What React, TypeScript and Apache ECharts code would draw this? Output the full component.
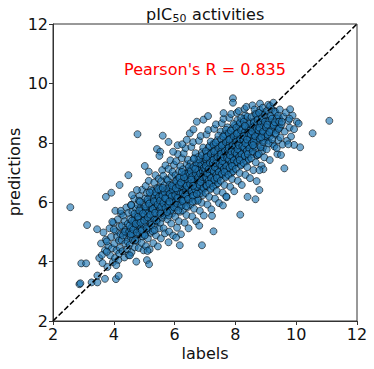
import React, { useEffect, useRef } from "react";
import * as echarts from "echarts";

// [label, prediction] pairs
const cloudLow: [number, number][] = [
  [3.52,4.12],[3.58,4.61],[3.63,3.95],[3.66,4.98],[3.71,4.38],[3.74,4.74],[3.79,3.82],[3.82,4.52],[3.86,5.12],[3.88,4.21],[3.91,4.83],[3.94,4.45],[3.97,3.98],[3.99,5.31],
  [4.02,4.61],[4.04,4.12],[4.07,5.02],[4.09,4.38],[4.11,4.84],[4.13,5.42],[4.15,4.05],[4.17,4.71],[4.19,5.18],[4.2,4.46],[4.22,4.93],[4.24,5.61],[4.08,3.88],[4.18,4.27],
  [4.26,4.72],[4.27,5.21],[4.29,4.35],[4.31,5.55],[4.33,4.98],[4.35,4.14],[4.36,5.36],[4.38,4.61],[4.4,5.08],[4.41,5.82],[4.43,4.83],[4.44,4.41],[4.46,5.27],[4.47,4.95],[4.48,5.64],[4.49,4.22],[4.3,4.88],[4.37,5.01],[4.45,4.68],
  [4.51,5.02],[4.52,4.56],[4.54,5.43],[4.55,4.83],[4.57,5.91],[4.58,4.31],[4.6,5.18],[4.61,5.67],[4.63,4.72],[4.64,5.31],[4.66,4.98],[4.67,6.12],[4.69,4.48],[4.7,5.52],[4.71,5.12],[4.72,4.87],[4.73,5.78],[4.74,5.26],[4.56,5.11],[4.62,4.94],[4.68,5.41],[4.53,4.21],
  [4.76,5.33],[4.77,4.71],[4.78,5.91],[4.8,5.08],[4.81,5.62],[4.82,4.46],[4.84,5.24],[4.85,6.21],[4.86,4.92],[4.87,5.47],[4.88,5.81],[4.9,5.14],[4.91,4.63],[4.92,5.69],[4.93,6.42],[4.94,5.36],[4.95,4.85],[4.96,5.98],[4.97,5.52],[4.98,4.38],[4.99,5.21],[4.79,5.42],[4.89,5.02],[4.83,6.05],[4.94,5.76],
  [5.01,5.58],[5.02,4.91],[5.03,6.12],[5.04,5.27],[5.05,6.55],[5.06,4.52],[5.07,5.81],[5.08,5.43],[5.09,6.31],[5.1,5.05],[5.11,5.67],[5.12,4.78],[5.13,6.02],[5.14,5.39],[5.15,6.72],[5.16,5.14],[5.17,5.88],[5.18,4.41],[5.19,5.52],[5.2,6.21],[5.21,5.76],[5.22,4.97],[5.23,6.43],[5.24,5.31],[5.05,5.71],[5.13,5.62],[5.19,5.98],[5.11,6.09],
  [5.26,5.71],[5.27,6.38],[5.28,5.02],[5.29,5.94],[5.3,4.62],[5.31,6.14],[5.32,5.48],[5.33,6.66],[5.34,5.83],[5.35,5.22],[5.36,6.02],[5.37,6.91],[5.38,5.61],[5.39,4.88],[5.4,6.27],[5.41,5.78],[5.42,5.35],[5.43,6.48],[5.44,5.97],[5.45,4.51],[5.46,6.17],[5.47,5.56],[5.48,6.79],[5.49,5.12],[5.29,5.62],[5.35,6.21],[5.41,6.05],[5.46,5.86],[5.33,5.41],[5.38,6.33],
];

const cloudMid: [number, number][] = [
  [5.51,5.92],[5.52,6.51],[5.53,5.31],[5.54,6.18],[5.55,4.78],[5.56,6.71],[5.57,5.67],[5.58,6.04],[5.59,7.08],[5.6,5.48],[5.61,6.32],[5.62,5.86],[5.63,6.89],[5.64,5.12],[5.65,6.21],[5.66,5.74],[5.67,6.58],[5.68,4.95],[5.69,6.02],[5.7,7.24],[5.71,5.58],[5.72,6.41],[5.73,5.97],[5.74,6.77],[5.52,5.78],[5.58,6.28],[5.62,6.12],[5.68,5.91],[5.72,6.16],[5.55,6.41],[5.64,5.55],
  [5.76,6.13],[5.77,5.42],[5.78,6.74],[5.79,5.88],[5.8,7.12],[5.81,6.35],[5.82,5.01],[5.83,6.58],[5.84,5.71],[5.85,6.21],[5.86,7.41],[5.87,5.96],[5.88,6.47],[5.89,5.28],[5.9,6.88],[5.91,6.08],[5.92,5.62],[5.93,7.02],[5.94,6.31],[5.95,4.88],[5.96,6.62],[5.97,5.84],[5.98,7.26],[5.99,6.17],[5.78,6.01],[5.83,6.27],[5.88,6.11],[5.92,6.38],[5.96,6.04],[5.81,5.55],[5.9,5.76],[5.95,6.52],
  [6.01,6.32],[6.02,5.51],[6.03,6.91],[6.04,6.08],[6.05,7.38],[6.06,5.82],[6.07,6.55],[6.08,5.14],[6.09,6.77],[6.1,6.21],[6.11,7.62],[6.12,5.97],[6.13,6.44],[6.14,5.36],[6.15,7.05],[6.16,6.12],[6.17,6.68],[6.18,5.68],[6.19,7.21],[6.2,6.36],[6.21,4.92],[6.22,6.59],[6.23,5.89],[6.24,7.48],[6.03,6.17],[6.07,6.41],[6.12,6.28],[6.16,6.49],[6.2,6.03],[6.23,6.24],[6.06,6.64],[6.14,6.83],[6.18,6.01],
  [6.26,6.52],[6.27,5.72],[6.28,7.11],[6.29,6.26],[6.3,7.64],[6.31,5.98],[6.32,6.78],[6.33,5.31],[6.34,6.94],[6.35,6.41],[6.36,7.82],[6.37,6.14],[6.38,6.67],[6.39,5.57],[6.4,7.28],[6.41,6.33],[6.42,6.88],[6.43,5.84],[6.44,7.43],[6.45,6.57],[6.46,5.12],[6.47,6.81],[6.48,6.08],[6.49,7.06],[6.28,6.61],[6.32,6.44],[6.37,6.53],[6.41,6.71],[6.45,6.29],[6.48,6.49],[6.3,6.92],[6.39,6.19],[6.44,7.01],
  [6.51,6.73],[6.52,5.91],[6.53,7.31],[6.54,6.44],[6.55,7.86],[6.56,6.17],[6.57,6.98],[6.58,5.52],[6.59,7.14],[6.6,6.62],[6.61,8.02],[6.62,6.33],[6.63,6.87],[6.64,5.78],[6.65,7.49],[6.66,6.52],[6.67,7.08],[6.68,6.04],[6.69,7.65],[6.7,6.78],[6.71,5.36],[6.72,7.02],[6.73,6.27],[6.74,7.27],[6.53,6.83],[6.57,6.58],[6.62,6.71],[6.66,6.93],[6.7,6.41],[6.73,6.68],[6.55,7.11],[6.64,6.22],[6.69,7.22],
  [6.76,6.92],[6.77,6.11],[6.78,7.52],[6.79,6.63],[6.8,8.07],[6.81,6.36],[6.82,7.18],[6.83,5.71],[6.84,7.34],[6.85,6.81],[6.86,8.23],[6.87,6.52],[6.88,7.07],[6.89,5.98],[6.9,7.69],[6.91,6.73],[6.92,7.28],[6.93,6.24],[6.94,7.84],[6.95,6.97],[6.96,5.55],[6.97,7.22],[6.98,6.46],[6.99,7.47],[6.78,7.03],[6.82,6.78],[6.87,6.91],[6.91,7.13],[6.95,6.61],[6.98,6.88],[6.8,7.31],[6.89,6.42],[6.94,7.42],
];

const cloudHigh: [number, number][] = [
  [7.01,7.12],[7.02,6.31],[7.03,7.72],[7.04,6.84],[7.05,8.28],[7.06,6.56],[7.07,7.38],[7.08,5.92],[7.09,7.54],[7.1,7.01],[7.11,8.43],[7.12,6.72],[7.13,7.27],[7.14,6.18],[7.15,7.89],[7.16,6.93],[7.17,7.48],[7.18,6.44],[7.19,8.04],[7.2,7.17],[7.21,5.76],[7.22,7.42],[7.23,6.66],[7.24,7.67],[7.03,7.23],[7.07,6.98],[7.12,7.11],[7.16,7.33],[7.2,6.81],[7.23,7.08],[7.05,7.51],[7.14,6.62],[7.19,7.62],
  [7.26,7.32],[7.27,6.52],[7.28,7.93],[7.29,7.04],[7.3,8.47],[7.31,6.76],[7.32,7.58],[7.33,6.12],[7.34,7.74],[7.35,7.21],[7.36,8.62],[7.37,6.92],[7.38,7.47],[7.39,6.38],[7.4,8.09],[7.41,7.13],[7.42,7.68],[7.43,6.64],[7.44,8.24],[7.45,7.37],[7.46,5.97],[7.47,7.62],[7.48,6.86],[7.49,7.87],[7.28,7.43],[7.32,7.18],[7.37,7.31],[7.41,7.53],[7.45,7.01],[7.48,7.28],[7.3,7.71],[7.39,6.82],[7.44,7.82],[7.35,8.01],
  [7.51,7.52],[7.52,6.72],[7.53,8.12],[7.54,7.24],[7.55,8.66],[7.56,6.96],[7.57,7.78],[7.58,6.32],[7.59,7.94],[7.6,7.41],[7.61,8.81],[7.62,7.12],[7.63,7.67],[7.64,6.58],[7.65,8.29],[7.66,7.33],[7.67,7.88],[7.68,6.84],[7.69,8.44],[7.7,7.57],[7.71,6.17],[7.72,7.82],[7.73,7.06],[7.74,8.07],[7.53,7.63],[7.57,7.38],[7.62,7.51],[7.66,7.73],[7.7,7.21],[7.73,7.48],[7.55,7.91],[7.64,7.02],[7.69,8.02],[7.6,8.21],
  [7.76,7.72],[7.77,6.92],[7.78,8.31],[7.79,7.44],[7.8,8.84],[7.81,7.16],[7.82,7.98],[7.83,6.52],[7.84,8.14],[7.85,7.61],[7.86,8.97],[7.87,7.32],[7.88,7.87],[7.89,6.78],[7.9,8.48],[7.91,7.53],[7.92,8.08],[7.93,7.04],[7.94,8.63],[7.95,7.77],[7.96,6.37],[7.97,8.02],[7.98,7.26],[7.99,8.27],[7.78,7.83],[7.82,7.58],[7.87,7.71],[7.91,7.93],[7.95,7.41],[7.98,7.68],[7.8,8.11],[7.89,7.22],[7.94,8.22],[7.85,8.41],
  [8.01,7.92],[8.02,7.12],[8.03,8.51],[8.04,7.64],[8.05,9.01],[8.06,7.36],[8.07,8.18],[8.08,6.72],[8.09,8.34],[8.1,7.81],[8.11,9.07],[8.12,7.52],[8.13,8.07],[8.14,6.98],[8.15,8.68],[8.16,7.73],[8.17,8.28],[8.18,7.24],[8.19,8.83],[8.2,7.97],[8.21,6.58],[8.22,8.22],[8.23,7.46],[8.24,8.47],[8.03,8.03],[8.07,7.78],[8.12,7.91],[8.16,8.13],[8.2,7.61],[8.23,7.88],[8.05,8.31],[8.14,7.42],[8.19,8.42],
  [8.26,8.12],[8.27,7.32],[8.28,8.71],[8.29,7.84],[8.3,9.14],[8.31,7.56],[8.32,8.38],[8.33,6.92],[8.34,8.54],[8.35,8.01],[8.36,9.21],[8.37,7.72],[8.38,8.27],[8.39,7.18],[8.4,8.88],[8.42,7.93],[8.43,8.48],[8.44,7.44],[8.46,8.63],[8.47,8.17],[8.48,6.81],[8.49,8.42],[8.28,8.23],[8.33,7.98],[8.38,8.11],[8.42,8.33],[8.46,7.81],[8.31,8.57],[8.41,7.62],
  [8.51,8.28],[8.52,7.48],[8.53,8.87],[8.54,7.99],[8.56,9.26],[8.57,7.71],[8.58,8.53],[8.59,7.08],[8.61,8.69],[8.62,8.16],[8.63,9.12],[8.64,7.87],[8.66,8.42],[8.67,7.34],[8.68,8.96],[8.69,8.08],[8.71,8.63],[8.72,7.59],[8.73,8.78],[8.74,8.32],[8.55,8.38],[8.6,8.04],[8.65,8.22],[8.7,8.48],[8.58,7.92],
  [8.76,8.42],[8.77,7.62],[8.78,9.01],[8.8,8.14],[8.81,9.32],[8.83,7.86],[8.84,8.67],[8.86,7.23],[8.87,8.83],[8.89,8.31],[8.9,9.18],[8.92,8.02],[8.93,8.56],[8.95,7.51],[8.96,8.94],[8.98,8.22],[8.79,8.51],[8.85,8.19],[8.91,8.38],[8.97,8.71],
  [9.01,8.52],[9.03,7.78],[9.04,9.08],[9.06,8.27],[9.08,9.28],[9.09,7.98],[9.11,8.73],[9.13,7.42],[9.15,8.91],[9.17,8.44],[9.19,9.14],[9.21,8.12],[9.23,8.62],[9.05,8.61],[9.12,8.36],[9.2,8.81],
  [9.26,8.58],[9.28,7.88],[9.31,9.04],[9.33,8.32],[9.36,8.81],[9.38,7.62],[9.41,8.92],[9.43,8.47],[9.46,9.12],[9.48,8.18],[9.3,8.69],[9.44,8.71],
  [9.52,8.62],[9.55,7.94],[9.58,8.88],[9.62,8.38],[9.66,9.02],[9.7,8.07],[9.74,8.74],[9.78,8.51],[9.83,8.21],[9.88,8.92],[9.93,8.46],
];

const coreDense: [number, number][] = [
  [4.52,5.21],[4.56,4.92],[4.6,5.38],[4.64,5.08],[4.68,5.61],[4.72,5.27],[4.76,4.98],[4.8,5.51],[4.84,5.72],[4.88,5.31],[4.92,5.05],[4.96,5.62],[5.0,5.38],[5.04,5.86],[5.08,5.12],[5.12,5.49],[5.16,5.95],[5.2,5.58],[5.24,5.23],[5.28,5.77],[5.32,6.03],[5.36,5.64],[5.4,5.39],[5.44,5.92],[5.48,6.18],[4.7,4.72],[4.86,6.02],[5.02,4.88],[5.18,6.33],[5.34,5.06],[5.46,6.44],
  [5.52,6.05],[5.56,5.84],[5.6,6.22],[5.63,5.97],[5.67,6.34],[5.7,5.81],[5.73,6.11],[5.77,6.46],[5.8,5.93],[5.84,6.28],[5.87,5.72],[5.9,6.19],[5.94,6.43],[5.97,5.99],[5.54,5.62],[5.61,6.48],[5.69,6.13],[5.75,5.67],[5.83,6.02],[5.91,6.56],[5.98,5.83],
  [6.02,6.24],[6.05,6.71],[6.08,5.95],[6.11,6.38],[6.13,6.12],[6.16,6.82],[6.19,6.27],[6.22,5.88],[6.25,6.53],[6.27,6.31],[6.3,6.08],[6.33,6.62],[6.36,6.95],[6.38,6.41],[6.41,6.18],[6.43,6.77],[6.46,6.49],[6.49,6.92],[6.04,6.47],[6.09,6.14],[6.15,6.58],[6.21,6.66],[6.26,6.04],[6.31,6.84],[6.35,6.26],[6.4,6.55],[6.44,6.11],[6.47,7.18],[6.12,5.72],[6.24,7.02],[6.38,5.86],
  [6.51,6.61],[6.53,7.04],[6.56,6.38],[6.58,6.87],[6.6,6.21],[6.62,7.19],[6.65,6.69],[6.67,6.44],[6.7,6.97],[6.72,7.31],[6.74,6.52],[6.77,6.83],[6.79,7.08],[6.81,6.59],[6.84,6.96],[6.86,6.31],[6.88,7.27],[6.9,6.77],[6.93,7.05],[6.95,6.48],[6.97,7.38],[6.99,6.92],[6.55,6.76],[6.61,6.55],[6.68,7.12],[6.73,6.28],[6.8,7.44],[6.85,6.68],[6.92,6.85],[6.96,7.15],[6.63,7.46],[6.76,6.05],[6.9,7.58],[6.59,6.02],
  [7.01,7.02],[7.03,7.41],[7.05,6.77],[7.07,7.18],[7.09,6.91],[7.11,7.57],[7.13,7.06],[7.15,6.64],[7.17,7.29],[7.19,7.73],[7.21,6.96],[7.23,7.37],[7.25,7.12],[7.27,6.81],[7.29,7.52],[7.31,7.24],[7.33,7.86],[7.35,6.99],[7.37,7.41],[7.39,7.16],[7.41,6.73],[7.43,7.62],[7.45,7.27],[7.47,7.94],[7.49,7.08],[7.04,6.55],[7.12,7.84],[7.2,6.47],[7.28,7.98],[7.36,6.58],[7.44,7.07],[7.1,7.24],[7.22,7.15],[7.32,7.46],[7.42,7.34],[7.06,7.63],[7.26,6.68],
  [7.51,7.41],[7.53,7.82],[7.55,7.13],[7.57,7.56],[7.59,7.28],[7.61,7.97],[7.63,7.43],[7.65,7.01],[7.67,7.68],[7.69,8.12],[7.71,7.36],[7.73,7.77],[7.75,7.52],[7.77,7.19],[7.79,7.91],[7.81,7.63],[7.83,8.26],[7.85,7.38],[7.87,7.81],[7.89,7.57],[7.91,7.12],[7.93,8.03],[7.95,7.66],[7.97,8.36],[7.99,7.47],[7.54,6.91],[7.62,8.24],[7.7,6.88],[7.78,8.37],[7.86,6.97],[7.94,7.33],[7.58,7.69],[7.68,7.48],[7.76,7.88],[7.84,7.74],[7.92,7.89],[7.52,8.38],[7.74,8.52],[7.98,8.58],
  [8.01,7.83],[8.03,8.21],[8.05,7.52],[8.07,7.96],[8.09,7.67],[8.11,8.37],[8.13,7.84],[8.15,7.41],[8.17,8.07],[8.19,8.51],[8.21,7.76],[8.23,8.16],[8.25,7.91],[8.27,7.58],[8.29,8.31],[8.31,8.02],[8.33,8.63],[8.35,7.78],[8.37,8.19],[8.39,7.95],[8.41,7.49],[8.43,8.41],[8.45,8.06],[8.47,8.72],[8.49,7.87],[8.04,7.31],[8.12,8.62],[8.2,7.27],[8.28,8.81],[8.36,7.37],[8.44,7.72],[8.08,8.09],[8.18,7.88],[8.26,8.27],[8.34,8.14],[8.42,8.23],[8.06,8.76],[8.32,8.93],
  [8.51,8.12],[8.53,8.57],[8.55,7.86],[8.57,8.31],[8.59,8.03],[8.61,8.72],[8.63,8.19],[8.65,7.76],[8.67,8.44],[8.69,8.87],[8.71,8.11],[8.73,8.52],[8.75,8.26],[8.77,7.93],[8.79,8.68],[8.81,8.39],[8.83,8.96],[8.85,8.13],[8.87,8.55],[8.89,8.29],[8.91,7.84],[8.93,8.77],[8.95,8.41],[8.97,9.03],[8.99,8.21],[8.56,7.62],[8.64,8.98],[8.72,7.58],[8.8,9.11],[8.88,7.72],[8.96,8.08],
  [9.02,8.33],[9.05,8.76],[9.08,8.07],[9.11,8.49],[9.14,8.22],[9.17,8.88],[9.2,8.38],[9.23,7.96],[9.26,8.64],[9.29,9.07],[9.32,8.27],[9.35,8.56],[9.38,8.43],[9.41,8.09],[9.44,8.83],[9.47,8.52],
];

const outliers: [number, number][] = [
  [2.57,5.83],[3.12,5.23],[3.45,5.09],[2.93,3.94],[3.09,3.94],[2.87,3.24],[2.9,3.27],[3.27,3.3],[3.46,3.3],[3.46,3.53],[3.71,3.42],[4.07,3.41],[4.16,3.52],
  [3.61,4.22],[3.77,4.33],[3.77,4.68],[3.95,5.34],[4.0,5.08],[4.05,5.71],[4.23,5.71],[4.6,6.24],[4.57,5.9],[3.74,6.18],[3.92,6.32],[4.19,6.58],[4.48,6.91],[4.76,6.41],
  [4.78,8.29],[5.61,8.24],[5.8,8.03],[5.42,7.79],[5.53,7.7],[5.5,7.56],[5.02,7.22],[5.15,7.03],[5.95,7.7],[6.1,7.92],[6.25,7.95],[6.4,8.1],[6.5,8.32],[6.62,8.45],[6.73,8.71],[6.95,8.78],[7.1,8.9],
  [7.61,9.0],[7.92,9.5],[7.92,9.35],[9.14,9.24],[9.25,9.35],[9.8,9.13],[9.53,8.71],[9.78,8.81],[10.02,8.71],[10.08,8.65],[10.54,8.32],[11.09,8.74],
  [10.13,7.85],[9.93,7.93],[9.74,7.95],[9.61,7.14],[9.5,7.59],[9.36,7.82],[8.92,7.11],[8.79,6.41],[8.7,6.71],[8.79,7.08],[8.66,6.1],[8.4,6.18],[8.16,5.58],[7.59,5.89],[7.7,6.19],[7.23,5.54],[7.28,5.02],[6.9,4.55],[6.81,5.21],
  [6.17,4.55],[6.05,4.81],[5.8,4.65],[5.09,4.05],[5.16,3.91],[4.74,4.0],[5.11,4.36],
];

const diagonal: [number, number][] = [[2, 2], [12, 12]];
const xTicks = [2, 4, 6, 8, 10, 12];
const yTicks = [2, 4, 6, 8, 10, 12];
const titleMain = "pIC";
const titleSub = "50";
const titleRest = " activities";
const pearsonText = "Pearson's R = 0.835";
const xName = "labels";
const yName = "predictions";

export default function App() {
  const ref = useRef<HTMLDivElement>(null);
  useEffect(() => {
    if (!ref.current) return;
    const chart = echarts.init(ref.current, undefined, { renderer: "svg" });
    const points = [...cloudLow, ...cloudMid, ...coreDense, ...cloudHigh, ...outliers];
    const font = "DejaVu Sans";
    const axisCommon = {
      type: "value" as const,
      min: xTicks[0],
      max: xTicks[xTicks.length - 1],
      interval: xTicks[1] - xTicks[0],
      axisLine: { show: true, onZero: false, lineStyle: { color: "#333", width: 1 } },
      axisTick: { show: true, inside: false, length: 4, lineStyle: { color: "#333", width: 1 } },
      splitLine: { show: false },
      axisLabel: { show: true, color: "#111", fontSize: 16, fontFamily: font, showMinLabel: true, showMaxLabel: true, margin: 5 },
    };
    chart.setOption({
      animation: false,
      backgroundColor: "#fff",
      grid: { left: 53, right: 17, top: 24, bottom: 48, show: true, borderColor: "#333", borderWidth: 1, backgroundColor: "transparent" },
      xAxis: { ...axisCommon },
      yAxis: { ...axisCommon, min: yTicks[0], max: yTicks[yTicks.length - 1], interval: yTicks[1] - yTicks[0] },
      graphic: [
        { type: "text", x: 146, y: 14.5, style: { text: titleMain, fontSize: 16, fontFamily: font, fill: "#111", align: "left", verticalAlign: "middle" } },
        { type: "text", x: 172.5, y: 18.3, style: { text: titleSub, fontSize: 11, fontFamily: font, fill: "#111", align: "left", verticalAlign: "middle" } },
        { type: "text", x: 187, y: 14.5, style: { text: titleRest, fontSize: 16, fontFamily: font, fill: "#111", align: "left", verticalAlign: "middle" } },
        { type: "text", x: 205, y: 69, style: { text: pearsonText, fontSize: 16, fontFamily: font, fill: "#ff0000", align: "center", verticalAlign: "middle" } },
        { type: "text", x: 205, y: 353, style: { text: xName, fontSize: 16, fontFamily: font, fill: "#111", align: "center", verticalAlign: "middle" } },
        { type: "text", x: 14, y: 172, rotation: Math.PI / 2, style: { text: yName, fontSize: 16, fontFamily: font, fill: "#111", align: "center", verticalAlign: "middle" } },
      ],
      series: [
        {
          type: "scatter",
          data: points,
          symbol: "circle",
          symbolSize: 7,
          large: false,
          itemStyle: { color: "rgba(31,119,180,0.8)", borderColor: "rgba(0,0,0,0.8)", borderWidth: 0.9 },
          z: 2,
        },
        {
          type: "line",
          data: diagonal,
          showSymbol: false,
          symbol: "none",
          lineStyle: { color: "#000", width: 1.5, type: [5.5, 2.4] },
          z: 3,
        },
      ],
    });
    return () => chart.dispose();
  }, []);
  return <div ref={ref} style={{ position: "fixed", left: 0, top: 0, width: 374, height: 369 }} />;
}
